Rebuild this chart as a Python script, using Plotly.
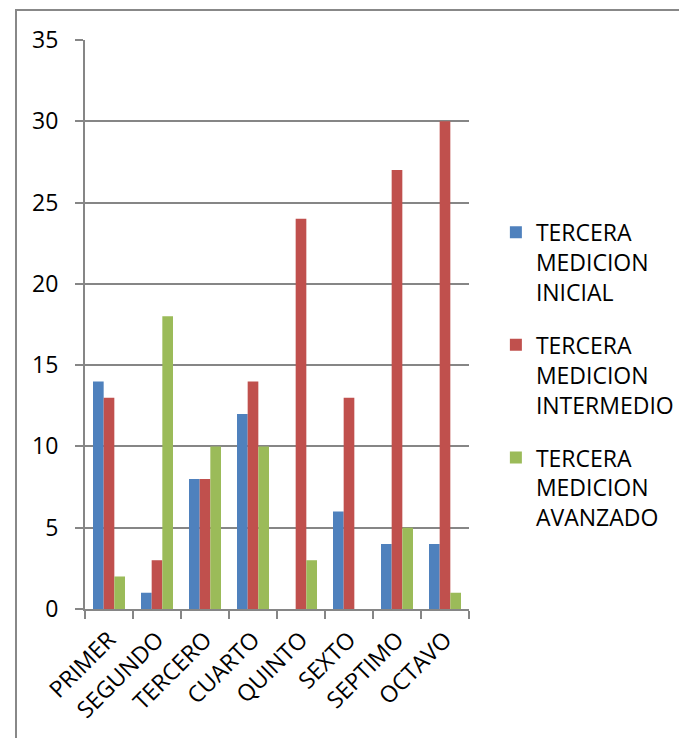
import plotly.graph_objects as go

categories = ["PRIMER", "SEGUNDO", "TERCERO", "CUARTO", "QUINTO", "SEXTO", "SEPTIMO", "OCTAVO"]
inicial = [14, 1, 8, 12, 0, 6, 4, 4]
intermedio = [13, 3, 8, 14, 24, 13, 27, 30]
avanzado = [2, 18, 10, 10, 3, 0, 5, 1]
series_names = ["TERCERA<br>MEDICION<br>INICIAL", "TERCERA<br>MEDICION<br>INTERMEDIO", "TERCERA<br>MEDICION<br>AVANZADO"]
colors = ["#4F81BD", "#C0504D", "#9BBB59"]

FONT = "Open Sans"
FS = 23
fig = go.Figure()
for i, (name, vals) in enumerate(zip(series_names, [inicial, intermedio, avanzado])):
    fig.add_trace(go.Bar(x=categories, y=vals, name=name, marker_color=colors[i],
                         marker_line_width=0, legendgroup=str(i)))

fig.update_layout(
    width=679, height=730,
    margin=dict(l=77, r=218, t=32, b=129, autoexpand=False),
    paper_bgcolor="white", plot_bgcolor="white",
    barmode="group", bargap=1/3, bargroupgap=0,
    font=dict(family=FONT, size=FS, color="black"),
    legend=dict(x=1.07, xanchor="left", y=0.70, yanchor="top", valign="top",
                traceorder="grouped", tracegroupgap=20,
                font=dict(family=FONT, size=FS, color="black")),
    xaxis=dict(showline=True, linecolor="#868686", linewidth=2, ticks="outside",
               tickson="boundaries", ticklen=8, tickwidth=2, tickcolor="#868686",
               tickangle=-45, showgrid=False, tickfont=dict(size=FS), automargin=False,
               ticklabelstandoff=6),
    yaxis=dict(range=[0, 35], dtick=5, showline=True, linecolor="#868686", linewidth=2,
               ticks="outside", ticklen=8, tickwidth=2, tickcolor="#868686",
               showgrid=True, gridcolor="#868686", gridwidth=1.5, zeroline=False,
               ticklabelstandoff=12, tickfont=dict(size=FS), automargin=False),
    shapes=[dict(type="rect", xref="paper", yref="paper",
                 x0=(16 - 85) / 384, x1=1.7, y0=-0.4, y1=(609 - 10) / 569,
                 line=dict(color="#888888", width=2), fillcolor="rgba(0,0,0,0)", layer="below")],
)
fig.write_html("out.html")
